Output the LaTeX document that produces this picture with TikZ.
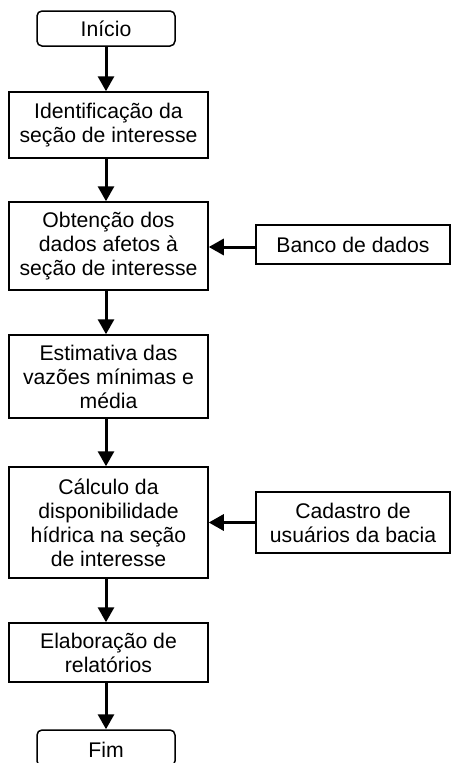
\documentclass[tikz,border=0pt]{standalone}
\usepackage{fontspec}
\setmainfont{Liberation Sans}
\usetikzlibrary{arrows.meta}
\begin{document}
\begin{tikzpicture}[x=1pt,y=-1pt,
  box/.style={draw=black,line width=1.5pt,rectangle,inner sep=0pt,align=center,
    font=\fontsize{21.2}{24}\selectfont},
  term/.style={box,rounded corners=5pt},
  flow/.style={line width=3pt,-{Triangle[length=15pt,width=16pt]}}]
\useasboundingbox (0,0) rectangle (452,763);
\begin{scope}
\clip (0,0) rectangle (452,763);
\node[term,minimum width=138pt,minimum height=35pt] (start) at (106,28.5) {Início};
\node[box,minimum width=199pt,minimum height=66pt] (b1) at (108.5,125) {Identificação da\\seção de interesse};
\node[box,minimum width=199pt,minimum height=88pt] (b2) at (108.5,246) {Obtenção dos\\dados afetos à\\seção de interesse};
\node[box,minimum width=199pt,minimum height=83pt] (b3) at (108.5,376.5) {Estimativa das\\vazões mínimas e\\média};
\node[box,minimum width=199pt,minimum height=111pt] (b4) at (108.5,522.5) {Cálculo da\\disponibilidade\\hídrica na seção\\de interesse};
\node[box,minimum width=199pt,minimum height=59pt] (b5) at (108.5,652.5) {Elaboração de\\relatórios};
\node[term,minimum width=138pt,minimum height=36pt,text depth=0pt] (fim) at (106,748) {};
\node[font=\fontsize{21.2}{24}\selectfont] (fimtxt) at (106,750) {Fim};
\node[box,minimum width=194pt,minimum height=39pt] (banco) at (353,244.5) {Banco de dados};
\node[box,minimum width=194pt,minimum height=61pt] (cad) at (353,522.5) {Cadastro de\\usuários da bacia};
\end{scope}
\draw[flow] (start.south) -- (b1.north -| start.south);
\draw[flow] (b1.south -| start.south) -- (b2.north -| start.south);
\draw[flow] (b2.south -| start.south) -- (b3.north -| start.south);
\draw[flow] (b3.south -| start.south) -- (b4.north -| start.south);
\draw[flow] (b4.south -| start.south) -- (b5.north -| start.south);
\draw[flow] (b5.south -| start.south) -- (fim.north);
\draw[flow] ([yshift=-2.5pt]banco.west) -- ([yshift=-2.5pt]banco.west -| b2.east);
\draw[flow] (cad.west) -- (cad.west -| b4.east);
\end{tikzpicture}
\end{document}
